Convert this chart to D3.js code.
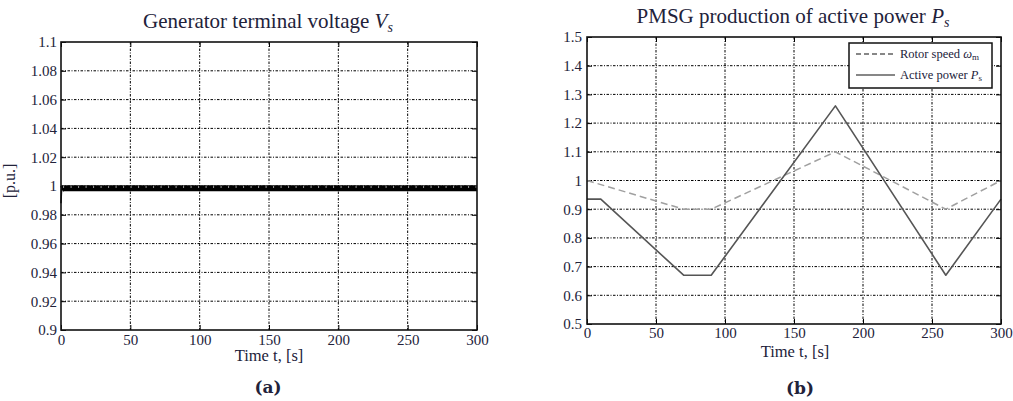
<!DOCTYPE html>
<html><head><meta charset="utf-8">
<script src="https://cdn.jsdelivr.net/npm/d3@7"></script>
<style>
html,body{margin:0;padding:0;background:#fff;}
svg text{font-family:"Liberation Serif","Times New Roman",serif;fill:#22223a;}
</style></head>
<body>
<svg id="c" width="1013" height="401"></svg>
<script>
// ---- data ----
const xTicks = [0, 50, 100, 150, 200, 250, 300];
const voltTicks = [0.9, 0.92, 0.94, 0.96, 0.98, 1, 1.02, 1.04, 1.06, 1.08, 1.1];
const voltTickLabels = ["0.9","0.92","0.94","0.96","0.98","1","1.02","1.04","1.06","1.08","1.1"];
const powerTicks = [0.5, 0.6, 0.7, 0.8, 0.9, 1, 1.1, 1.2, 1.3, 1.4, 1.5];
const powerTickLabels = ["0.5","0.6","0.7","0.8","0.9","1","1.1","1.2","1.3","1.4","1.5"];
const voltTime = [0, 0.4, 1.5, 300];
const voltValue = [0.988, 0.9978, 0.9984, 0.9984];
const powerTime = [0, 10, 70, 90, 180, 260, 300];
const powerValue = [0.935, 0.935, 0.67, 0.67, 1.26, 0.67, 0.935];
const speedTime = [0, 70, 90, 180, 260, 300];
const speedValue = [1.0, 0.9, 0.9, 1.1, 0.9, 1.0];

const FONT = '"Liberation Serif","Times New Roman",serif';
const svg = d3.select("#c");

function panel(opt){
  const g = svg.append("g");
  const x = d3.scaleLinear().domain([0,300]).range([opt.l, opt.r]);
  const y = d3.scaleLinear().domain(opt.ydom).range([opt.b, opt.t]);
  // grid
  const grid = g.append("g");
  grid.selectAll("line.gx").data(xTicks.slice(1,-1)).join("line")
    .attr("x1",d=>x(d)).attr("x2",d=>x(d)).attr("y1",opt.t).attr("y2",opt.b)
    .attr("stroke","#000").attr("stroke-width",1).attr("stroke-dasharray","2.5,1.5,1,1.5");
  grid.selectAll("line.gy").data(opt.yticks.slice(1,-1)).join("line")
    .attr("y1",d=>y(d)).attr("y2",d=>y(d)).attr("x1",opt.l).attr("x2",opt.r)
    .attr("stroke","#000").attr("stroke-width",1).attr("stroke-dasharray","2.5,1.5,1,1.5");
  const ax = (sel, axis) => { sel.call(axis); sel.select(".domain").remove();
    sel.attr("font-family",FONT);
    sel.selectAll(".tick line").attr("stroke","#000").attr("stroke-width",1); };
  const bottom = g.append("g").attr("transform",`translate(0,${opt.b})`);
  ax(bottom, d3.axisBottom(x).tickValues(xTicks).tickSizeInner(-5).tickSizeOuter(0).tickPadding(4));
  bottom.selectAll(".tick text").attr("font-size",15).attr("dy","0.71em").attr("y",opt.xlabY);
  const top = g.append("g").attr("transform",`translate(0,${opt.t})`);
  ax(top, d3.axisTop(x).tickValues(xTicks).tickSizeInner(-5).tickSizeOuter(0).tickFormat(""));
  const left = g.append("g").attr("transform",`translate(${opt.l},0)`);
  ax(left, d3.axisLeft(y).tickValues(opt.yticks).tickSizeInner(-5).tickSizeOuter(0)
    .tickFormat((d,i)=>opt.ylabels[i]));
  left.selectAll(".tick text").attr("font-size",15).attr("x",opt.ylabX);
  const right = g.append("g").attr("transform",`translate(${opt.r},0)`);
  ax(right, d3.axisRight(y).tickValues(opt.yticks).tickSizeInner(-5).tickSizeOuter(0).tickFormat(""));
  g.selectAll("text").style("font-family",FONT).attr("fill","#22223a");
  // series
  opt.series.forEach(s=>{
    const pts = s.t.map((t,i)=>[t,s.v[i]]);
    const line = d3.line().x(d=>x(d[0])).y(d=>y(d[1]));
    if (s.thick){
      g.append("path").attr("d", line(pts)).attr("fill","none").attr("stroke",s.color).attr("stroke-width",1.5);
      g.append("path").attr("d", line(pts.slice(1))).attr("fill","none").attr("stroke",s.color)
        .attr("stroke-width",s.w);
      g.append("path").attr("d", d3.line().x(d=>x(d[0])).y(d=>y(d[1])-1.5)(pts.slice(2)))
        .attr("fill","none").attr("stroke","#fff").attr("stroke-width",2.2)
        .attr("stroke-dasharray","1,6.5").attr("opacity",0.6);
    } else {
      g.append("path").attr("d", line(pts))
        .attr("fill","none").attr("stroke",s.color).attr("stroke-width",s.w)
        .attr("stroke-dasharray",s.dash||null).attr("stroke-linejoin","round");
    }
  });
  // box
  g.append("rect").attr("x",opt.l).attr("y",opt.t).attr("width",opt.r-opt.l).attr("height",opt.b-opt.t)
    .attr("fill","none").attr("stroke","#111").attr("stroke-width",1.6);
  // title
  const tt = g.append("text").attr("x",opt.titleX).attr("y",opt.titleY).attr("text-anchor","middle")
    .attr("font-size",21);
  tt.append("tspan").text(opt.title);
  tt.append("tspan").attr("font-style","italic").text(opt.titleVar);
  tt.append("tspan").attr("font-style","italic").attr("font-size",14).attr("dy",4).text("s");
  // x label
  g.append("text").attr("x",opt.xlX).attr("y",opt.xlY).attr("text-anchor","middle")
    .attr("font-size",16.5).text("Time t, [s]");
  // panel tag
  g.append("text").attr("x",opt.tagX).attr("y",opt.tagY).attr("text-anchor","middle")
    .attr("font-size",17).attr("font-weight","bold").style("font-family",'"DejaVu Serif",serif').attr("fill","#111").text(opt.tag);
  return {g,x,y};
}

const a = panel({l:61,r:477,t:42,b:330,ydom:[0.9,1.1],yticks:voltTicks,ylabels:voltTickLabels,
  xlabY:4,ylabX:-4,
  series:[{t:voltTime,v:voltValue,color:"#000",w:6,thick:true}],
  title:"Generator terminal voltage ",titleVar:"V",titleX:268,titleY:28,
  xlX:269,xlY:361,tag:"(a)",tagX:268,tagY:393});
a.g.append("text").attr("transform","translate(15,181) rotate(-90)").attr("text-anchor","middle")
  .attr("font-size",16).attr("fill","#22223a").text("[p.u.]");

const b = panel({l:587,r:1001,t:37,b:324,ydom:[0.5,1.5],yticks:powerTicks,ylabels:powerTickLabels,
  xlabY:3,ylabX:-5,
  series:[{t:speedTime,v:speedValue,color:"#a0a0a0",w:1.5,dash:"7,4"},
          {t:powerTime,v:powerValue,color:"#555",w:1.6}],
  title:"PMSG production of active power ",titleVar:"P",titleX:793,titleY:23,
  xlX:795,xlY:357,tag:"(b)",tagX:800,tagY:394});

// legend
const lg = b.g.append("g");
lg.append("rect").attr("x",849).attr("y",43).attr("width",143).attr("height",45)
  .attr("fill","#fff").attr("stroke","#111").attr("stroke-width",1.5);
const legendItems = [{label:"Rotor speed ",v:"ω",sub:"m",dash:"5,3",y:54},
                     {label:"Active power ",v:"P",sub:"s",dash:null,y:75}];
legendItems.forEach(it=>{
  lg.append("line").attr("x1",856).attr("x2",895).attr("y1",it.y).attr("y2",it.y)
    .attr("stroke","#111").attr("stroke-width",1.2).attr("stroke-dasharray",it.dash);
  const t = lg.append("text").attr("x",900).attr("y",it.y+4).attr("font-size",12.5).attr("fill","#22223a");
  t.append("tspan").text(it.label);
  t.append("tspan").attr("font-style","italic").text(it.v);
  t.append("tspan").attr("font-size",9).attr("dy",2).text(it.sub);
});
</script>
</body></html>
